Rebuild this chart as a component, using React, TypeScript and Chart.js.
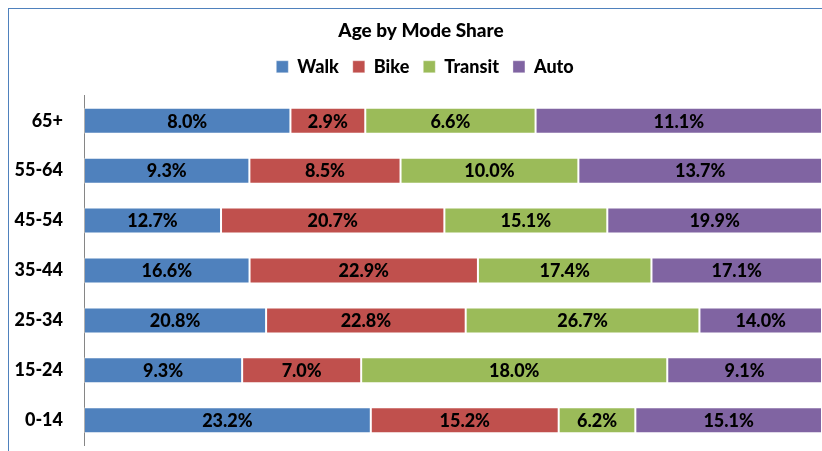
import React, { useEffect, useRef } from "react";
import { Chart, registerables } from "chart.js";

Chart.register(...registerables);

const categories = ["65+", "55-64", "45-54", "35-44", "25-34", "15-24", "0-14"];
const walk = [8.0, 9.3, 12.7, 16.6, 20.8, 9.3, 23.2];
const bike = [2.9, 8.5, 20.7, 22.9, 22.8, 7.0, 15.2];
const transit = [6.6, 10.0, 15.1, 17.4, 26.7, 18.0, 6.2];
const auto = [11.1, 13.7, 19.9, 17.1, 14.0, 9.1, 15.1];

const seriesNames = ["Walk", "Bike", "Transit", "Auto"];
const seriesColors = ["#4F81BD", "#C0504D", "#9BBB59", "#8064A2"];

const FONT = "Lato, Carlito, 'Open Sans', sans-serif";
const WEIGHT = "900";

export default function App() {
  const ref = useRef<HTMLCanvasElement | null>(null);

  useEffect(() => {
    if (!ref.current) return;
    const raw = [walk, bike, transit, auto];
    const totals = categories.map((_, i) => raw.reduce((s, arr) => s + arr[i], 0));
    const datasets = raw.map((arr, k) => ({
      label: seriesNames[k],
      data: arr.map((v, i) => (v / totals[i]) * 100),
      backgroundColor: seriesColors[k],
      borderColor: "rgba(255,255,255,0.35)",
      borderWidth: 1,
      borderSkipped: false as any,
      barPercentage: 0.52,
      categoryPercentage: 1,
    }));

    const legendSpacing = {
      id: "legendSpacing",
      beforeInit(chart: any) {
        const legend = chart.legend;
        if (!legend) return;
        const orig = legend.fit;
        legend.fit = function () {
          orig.call(this);
          this.height += 10;
        };
      },
      afterLayout(chart: any) {
        if (chart.titleBlock) chart.titleBlock.left += 11;
        if (chart.legend) chart.legend.left += 19;
      },
    };

    const valueLabels = {
      id: "valueLabels",
      afterDatasetsDraw(chart: any) {
        const ctx = chart.ctx;
        ctx.save();
        ctx.font = `${WEIGHT} 18px ${FONT}`;
        ctx.fillStyle = "#000";
        ctx.textAlign = "center";
        ctx.textBaseline = "middle";
        chart.data.datasets.forEach((_: any, k: number) => {
          const meta = chart.getDatasetMeta(k);
          meta.data.forEach((el: any, i: number) => {
            const cx = (el.x + el.base) / 2;
            ctx.fillText(raw[k][i].toFixed(1) + "%", cx, el.y + 1);
          });
        });
        ctx.restore();
      },
    };

    const chart = new Chart(ref.current, {
      type: "bar",
      data: { labels: categories, datasets },
      options: {
        indexAxis: "y",
        responsive: false,
        animation: false,
        devicePixelRatio: 1,
        layout: { padding: { left: 0, right: 11, top: 0, bottom: 14 } },
        scales: {
          x: { display: false, stacked: true, min: 0, max: 100 },
          y: {
            stacked: true,
            grid: { display: false, drawTicks: false },
            border: { display: true, color: "#868686", width: 1 },
            ticks: {
              color: "#000",
              padding: 21,
              font: { family: FONT, size: 18, weight: WEIGHT },
            },
            afterFit: (s: any) => {
              s.width = 75;
            },
          },
        },
        plugins: {
          tooltip: { enabled: false },
          title: {
            display: true,
            text: "Age by Mode Share",
            color: "#000",
            font: { family: FONT, size: 19, weight: WEIGHT, lineHeight: 1.2 },
            padding: { top: 10, bottom: 2 },
          },
          legend: {
            display: true,
            position: "top",
            labels: {
              color: "#000",
              boxWidth: 12,
              boxHeight: 12,
              padding: 14,
              font: { family: FONT, size: 18, weight: WEIGHT },
            },
          },
        },
      },
      plugins: [legendSpacing, valueLabels],
    } as any);
    return () => chart.destroy();
  }, []);

  return (
    <div style={{ position: "fixed", inset: 0, overflow: "hidden", background: "#fff" }}>
      <div
        style={{
          position: "absolute",
          left: 8,
          top: 8,
          width: 826,
          height: 480,
          border: "1px solid #4F81BD",
          boxSizing: "border-box",
          background: "#fff",
        }}
      >
        <canvas
          ref={ref}
          width={824}
          height={468}
          style={{ position: "absolute", left: 0, top: 0, width: 824, height: 468, display: "block" }}
        />
      </div>
    </div>
  );
}
